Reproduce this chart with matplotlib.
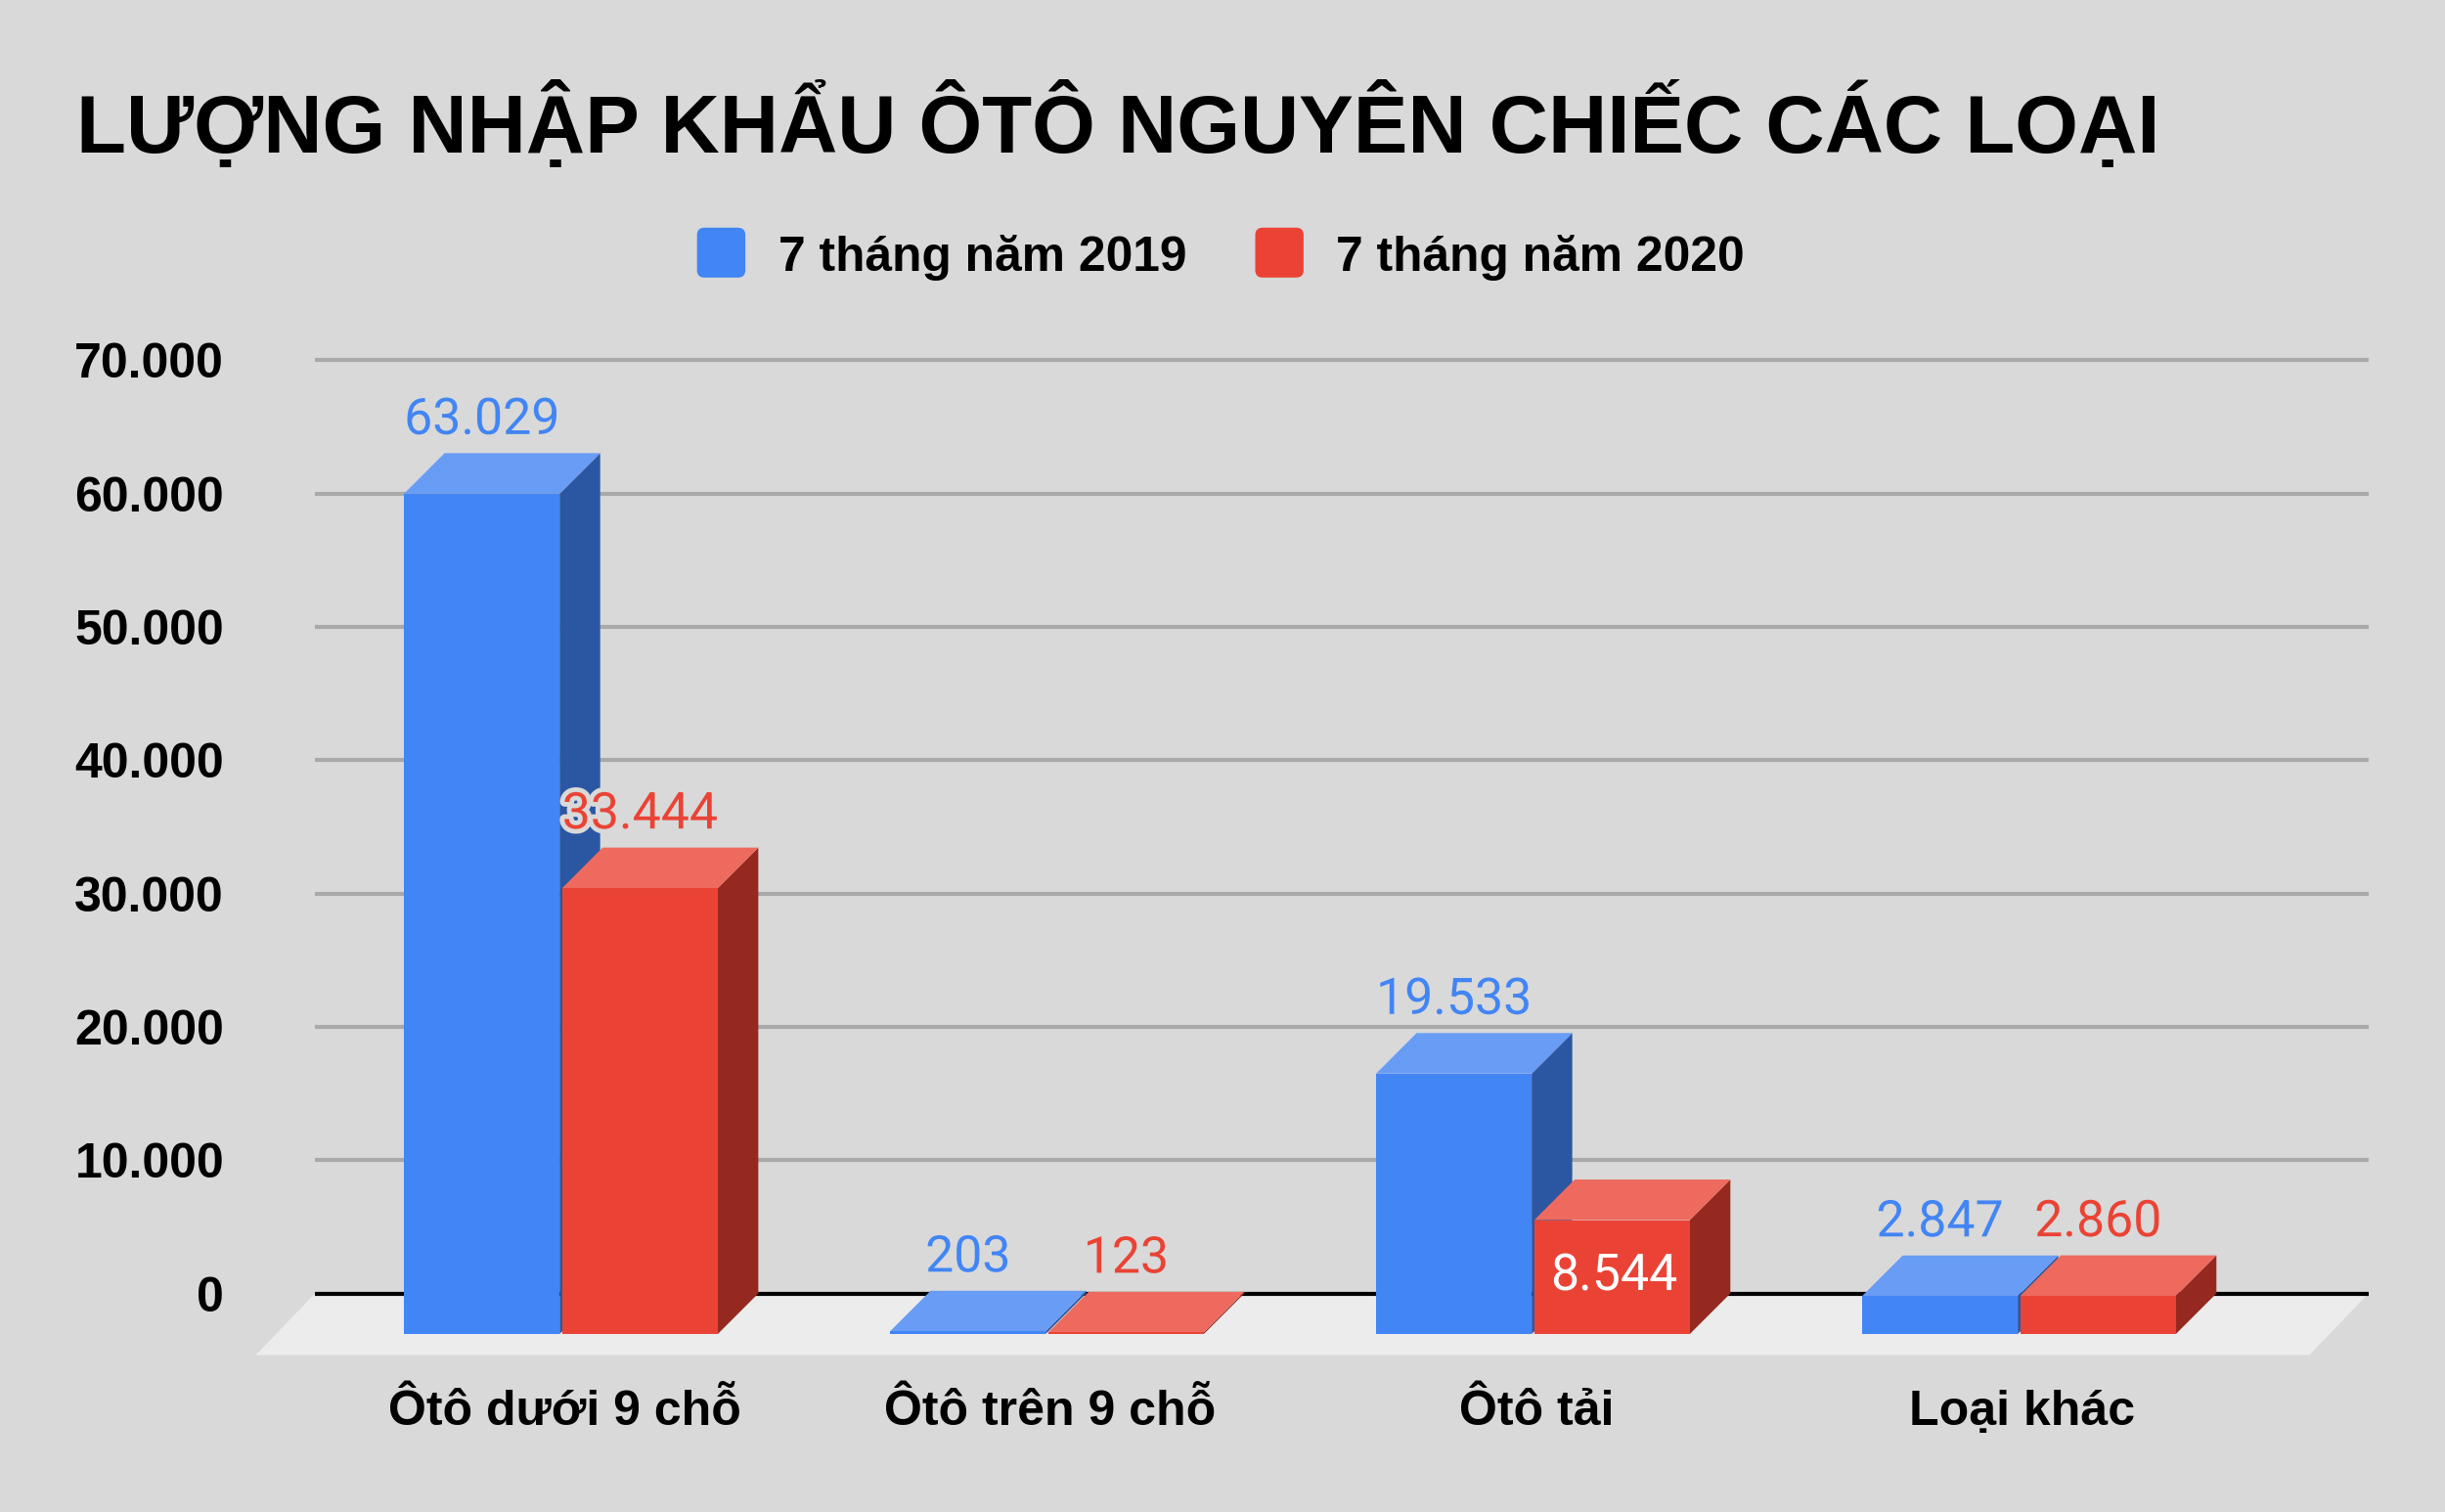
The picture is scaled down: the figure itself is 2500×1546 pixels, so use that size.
import matplotlib
matplotlib.use("Agg")
import matplotlib.pyplot as plt
import matplotlib.patheffects as pe
from matplotlib.patches import FancyBboxPatch, Polygon

categories = ["Ôtô dưới 9 chỗ", "Ôtô trên 9 chỗ", "Ôtô tải", "Loại khác"]
values_2019 = [63029, 203, 19533, 2847]
values_2020 = [33444, 123, 8544, 2860]
labels_2019 = ["63.029", "203", "19.533", "2.847"]
labels_2020 = ["33.444", "123", "8.544", "2.860"]
series_names = ["7 tháng năm 2019", "7 tháng năm 2020"]
y_ticks = [0, 10000, 20000, 30000, 40000, 50000, 60000, 70000]
y_tick_labels = ["0", "10.000", "20.000", "30.000", "40.000", "50.000", "60.000", "70.000"]

BG = "#d9d9d9"
FLOOR = "#ececec"
BLUE = ("#4285f4", "#689cf5", "#2b57a2")
RED = ("#ea4335", "#ee6a5e", "#952920")

W, H = 2500, 1546
S = W / 1568  # coords below were measured on a 1568 wide view

fig = plt.figure(figsize=(W / 100, H / 100), dpi=100, facecolor=BG)
ax_left, ax_right, ax_top, ax_bottom = 202, 1519, 231, 829.5
ax = fig.add_axes([ax_left * S / W, 1 - ax_bottom * S / H,
                   (ax_right - ax_left) * S / W, (ax_bottom - ax_top) * S / H])
ax.set_facecolor("none")

step_px = 311.7
x0_px = 359.7
ax.set_xlim((ax_left - x0_px) / step_px, (ax_right - x0_px) / step_px)
ax.set_ylim(0, 70000)

px_y = 70000 / (ax_bottom - ax_top)
depth_x = 26 / step_px
depth_y = 26 * px_y
bar_w = 99.8 / step_px
gap = 1.6 / step_px

for s in ax.spines.values():
    s.set_visible(False)

# gridlines and tick labels
ax.set_yticks(y_ticks)
ax.set_yticklabels(y_tick_labels, family="Liberation Sans", weight="bold", fontsize=36, color="#000000")
ax.tick_params(axis="y", length=0, pad=67)
ax.grid(axis="y", color="#a9a9a9", lw=3.0, zorder=1, clip_on=False, solid_capstyle="butt")
ax.set_axisbelow(True)

ax.set_xticks([i + 0.007 for i in range(len(categories))])
ax.set_xticklabels(categories, family="Liberation Sans", weight="bold", fontsize=36, color="#000000")
ax.tick_params(axis="x", length=0, pad=71)

# floor
fx0, fx1 = ax.get_xlim()
floor_dx = 38 / step_px
floor_dy = 39.5 * px_y
ax.add_patch(Polygon([(fx0, 0), (fx1, 0), (fx1 - floor_dx, -floor_dy), (fx0 - floor_dx, -floor_dy)],
                     closed=True, fc=FLOOR, ec="none", clip_on=False, zorder=2))
ax.axhline(0, color="#000000", lw=3.0, zorder=3, clip_on=False, solid_capstyle="butt")


def draw_bar(left, value, colors, z):
    front, top, side = colors
    right = left + bar_w
    low = -depth_y
    high = value - depth_y
    ax.add_patch(Polygon([(right, low), (right + depth_x, 0), (right + depth_x, value), (right, high)],
                         closed=True, fc=side, ec="none", clip_on=False, zorder=z))
    ax.add_patch(Polygon([(left, high), (right, high), (right + depth_x, value), (left + depth_x, value)],
                         closed=True, fc=top, ec="none", clip_on=False, zorder=z + 0.1))
    ax.bar(left, value, width=bar_w, bottom=low, align="edge", color=front, lw=0, clip_on=False, zorder=z + 0.2)


def draw_label(x, value, text, color, inside=False):
    off = -62.5 if inside else 21
    t = ax.annotate(text, (x, value), xytext=(1.5 if inside else 0, off * S * 0.72), textcoords="offset points",
                    ha="center", va="center", family="Roboto", fontsize=37.3,
                    color="#ffffff" if inside else color, zorder=10, annotation_clip=False)
    if not inside:
        t.set_path_effects([pe.withStroke(linewidth=7, foreground=BG)])


for i in range(len(categories)):
    blue_left = i - bar_w - gap / 2
    red_left = i + gap / 2
    draw_bar(blue_left, values_2019[i], BLUE, 4 + i)
    draw_bar(red_left, values_2020[i], RED, 4.5 + i)

for i in range(len(categories)):
    draw_label(i - gap / 2 - bar_w / 2, values_2019[i], labels_2019[i], BLUE[0])
    # the 2020 truck label sits inside its bar
    draw_label(i + gap / 2 + bar_w / 2, values_2020[i], labels_2020[i], RED[0], inside=(i == 2))

# title
fig.text(49 * S / W, 1 - 98 * S / H, "LƯỢNG NHẬP KHẨU ÔTÔ NGUYÊN CHIẾC CÁC LOẠI",
         family="Liberation Sans", weight="bold", fontsize=60, color="#000000", ha="left", va="baseline")

# legend
legend_swatch_x = [447, 805]
legend_text_x = [499, 857]
for x, tx, name, c in zip(legend_swatch_x, legend_text_x, series_names, [BLUE[0], RED[0]]):
    fig.add_artist(FancyBboxPatch((x * S / W, 1 - 178 * S / H), 31 * S / W, 32 * S / H,
                                  boxstyle="round,pad=0,rounding_size=0.003", mutation_aspect=W / H,
                                  fc=c, ec="none", transform=fig.transFigure))
    fig.text(tx * S / W, 1 - 174 * S / H, name, family="Liberation Sans", weight="bold",
             fontsize=35.8, color="#000000", ha="left", va="baseline")

fig.savefig("out.png", dpi=100, facecolor=BG)
